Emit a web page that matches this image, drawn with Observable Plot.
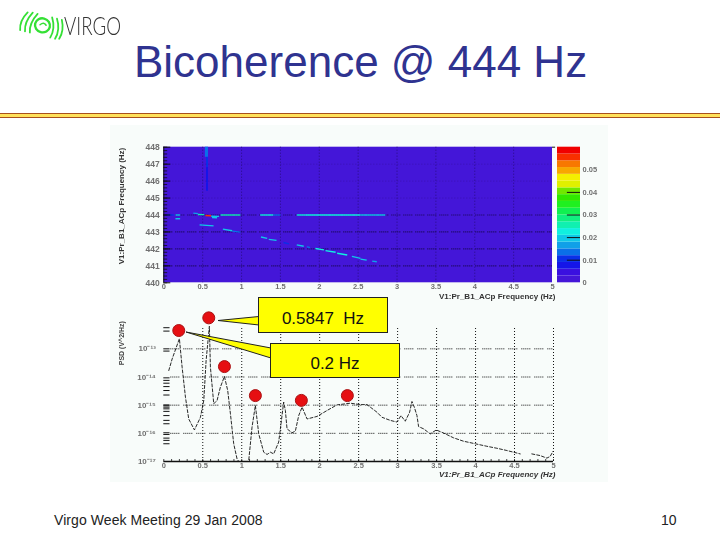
<!DOCTYPE html>
<html><head><meta charset="utf-8">
<script src="https://cdn.jsdelivr.net/npm/d3@7"></script>
<script src="https://cdn.jsdelivr.net/npm/@observablehq/plot@0.6"></script>
<style>
html,body{margin:0;padding:0;background:#fff;overflow:hidden}
#slide{position:relative;width:720px;height:540px;font-family:"Liberation Sans",Arial,sans-serif;overflow:hidden}
#slide>*{position:absolute}
#title{left:134px;top:37px;font-size:44px;line-height:50px;color:#2f3390;white-space:nowrap}
#rule{left:0;top:113px;width:720px;height:3px;background:#ffe15a;border-top:1px solid #a8501c;border-bottom:1px solid #a8501c}
#panel{left:110px;top:125px;width:498px;height:357px;background:#f8fcfa}
#logotext{left:64px;top:10px;font-family:Lato,"Open Sans",sans-serif;font-weight:300;font-size:26px;line-height:30px;color:#333;transform-origin:0 0;transform:scaleX(.72);white-space:nowrap}
.box{background:#ffff00;border:1px solid #222;box-sizing:border-box;display:flex;align-items:center;justify-content:center;font-size:17px;color:#111;white-space:pre;padding-top:7px}
#foot{left:54px;top:511px;font-size:14px;line-height:18px;color:#222;white-space:nowrap;letter-spacing:.07px}
#num{left:661px;top:511px;font-size:14px;line-height:18px;color:#222}
.chart{left:0;top:0;filter:blur(.3px)}
</style></head><body>
<div id="slide">
<svg id="logo" style="left:0;top:0" width="70" height="50">
  <g fill="none" stroke="#35e035" stroke-width="1.8" stroke-linecap="round" transform="rotate(14 41 25)">
    <path d="M25 16Q19 26 22 35"/><path d="M30 15Q24 26 27 35"/><path d="M35 15Q29 26 32 35"/>
    <path d="M50 15Q56 25 53 35"/><path d="M55 15Q61 25 58 35"/><path d="M60 15Q65 25 62 34"/>
    <ellipse cx="42.5" cy="25" rx="7.5" ry="7" stroke-width="2.4"/>
    <path d="M40 25Q43 21 46 24" stroke-width="1.5"/>
  </g>
</svg>
<div id="logotext">VIRGO</div>
<div id="title">Bicoherence @ 444 Hz</div>
<div id="rule"></div>
<div id="panel"></div>
<div id="foot">Virgo Week Meeting 29 Jan 2008</div>
<div id="num">10</div>
</div>
<script>
// Colour bar
const bandEdges = [0,.003,.006,.009,.012,.015,.018,.021,.024,.027,.03,.033,.036,.039,.042,.045,.048,.051,.054,.057,.06];
const bandColors = ["#4416d8","#3a10e0","#1515e8","#0a30e8","#0a70e8","#10a0e8","#10c8e8","#10f0e0","#10f0b0","#10f080","#10f050","#20f020","#30e800","#70e800","#e0f000","#f4f000","#f8a800","#f87800","#f83000","#f00000"];
const colorTicks = [.01,.02,.03,.04];
const colorLabels = [0,.01,.02,.03,.04,.05];

// Bicoherence map: bright ridges
const ridgeX1 = [.02,.15,.15,.38,.44,.535,.61,.62,.73,1.24,1.41,1.71,1.82,2.53, .46,.76,.88,1.25,1.35,1.54,1.71,1.84,1.95,2.08,2.23,2.42,2.53,2.68];
const ridgeX2 = [.13,.21,.21,.44,.52,.61,.71,.685,.985,1.41,1.5,1.82,2.53,2.85, .64,.88,.985,1.33,1.45,1.61,1.8,1.88,2.06,2.21,2.36,2.53,2.61,2.74];
const ridgeF1 = [444,444,443.78,444.11,444.03,443.97,443.93,443.85,444,444,444,444,444,444, 443.42,443.17,443.05,442.7,442.56,442.38,442.24,442.13,442.02,441.9,441.74,441.56,441.4,441.28];
const ridgeF2 = [444,444,443.78,444.08,444.02,443.96,443.92,443.84,444,444,444,444,444,444, 443.36,443.07,442.99,442.62,442.5,442.3,442.16,442.07,441.94,441.8,441.64,441.44,441.34,441.24];
const ridgeLevel = [.011,.02,.02,.016,.024,.056,.02,.02,.024,.022,.012,.022,.021,.018, .02,.02,.012,.02,.018,.011,.02,.012,.021,.021,.021,.02,.02,.016];
const streakX1 = [.535,.55,.55,.55];
const streakX2 = [.575,.575,.575,.575];
const streakF1 = [448,447.4,446.8,445.9];
const streakF2 = [447.4,446.8,445.9,445.4];
const streakLevel = [.014,.011,.008,.007];
const backgroundLevel = [.002];

// PSD curve (frequency in Hz, log10 of PSD); null marks gaps in the trace
const psdFreq = [.064,.107,.2,.235,.278,.32,.393,.47,.513,.543,.5847,.598,.641,.684,.726,.778,.82,.855,.897,.94,.974,1.026,1.09,1.132,1.175,1.218,1.282,1.325,1.368,1.41,1.474,1.504,1.538,1.56,1.581,1.645,1.688,1.731,1.774,1.838,1.966,2.094,2.222,2.393,2.521,2.607,2.735,2.799,2.906,2.991,3.043,3.098,3.154,3.184,3.214,3.248,3.269,3.333,3.419,3.496,3.59,3.718,3.846,3.996,4.145,4.274,4.402,4.573,4.65,4.722,4.829,4.915,4.957,5];
const psdExp = [-13.77,-13.36,-12.64,-13.65,-14.72,-15.49,-15.88,-15.43,-14.83,-13.41,-12.2,-13.65,-14.95,-14.83,-14.36,-13.98,-14.48,-15.31,-16.37,-16.91,-17.05,-17.44,-16.96,-15.78,-15.01,-16.02,-16.67,-16.75,-16.67,-16.73,-16.31,-15.66,-14.89,-15.19,-15.84,-15.98,-15.92,-15.37,-15.07,-15.49,-15.4,-15.19,-14.99,-14.93,-14.98,-14.98,-15.25,-15.43,-15.54,-15.6,-15.37,-15.57,-15.25,-14.87,-15.07,-15.37,-15.76,-15.84,-16.02,-15.88,-15.99,-16.16,-16.28,-16.37,-16.46,-16.53,-16.61,-16.73,null,-16.73,-16.79,-16.88,-16.82,-16.61];
const markerFreq = [.192,.577,.778,1.175,1.765,2.355];
const markerExp = [-12.35,-11.9,-13.63,-14.66,-14.83,-14.66];
const psdTickExp = [-12.25,-12.37,-13,-13.08,-14.03,-14.12,-14.22,-14.34,-14.48,-14.64,-14.99,-15.02,-15.07,-15.13,-15.22,-15.37,-15.54,-15.66,-15.98,-16.04,-16.17,-16.25,-16.37];
const psdDecades = [-13,-14,-15,-16,-17];
const psdGridExp = [-13,-14,-15,-16];

const xTicks = [0,.5,1,1.5,2,2.5,3,3.5,4,4.5,5];
const fTicks = [440,441,442,443,444,445,446,447,448];
const xTitle = "V1:Pr_B1_ACp Frequency (Hz)";
const grey = "#707070";
const base = {width:720,height:540,style:{background:"transparent",fontFamily:"'Liberation Sans',Arial,sans-serif"}};
const slideEl = document.getElementById("slide");
function add(p,cls="chart"){p.classList.add(cls);slideEl.appendChild(p);p.style.position="absolute";return p;}

const colorScale = {type:"threshold",domain:bandEdges.slice(1,-1),range:bandColors};
const ridgeIdx = d3.range(ridgeX1.length), streakIdx = d3.range(streakX1.length);

add(Plot.plot({...base,marginLeft:163.3,marginRight:168,marginTop:146.7,marginBottom:257.7,
  x:{domain:[0,5],axis:null},y:{domain:[440,448],axis:null},color:colorScale,
  marks:[
    Plot.rect(backgroundLevel,{x1:()=>0,x2:()=>5,y1:()=>440,y2:()=>448,fill:d=>d}),
    Plot.rect(streakIdx,{x1:i=>streakX1[i],x2:i=>streakX2[i],y1:i=>streakF1[i],y2:i=>streakF2[i],fill:i=>streakLevel[i]}),
    Plot.ruleX(xTicks.slice(1,-1),{stroke:"#200a60",strokeOpacity:.7,strokeDasharray:"1 2"}),
    Plot.ruleY([441,442,443,444],{stroke:"#180850",strokeWidth:1.2,strokeDasharray:"1 1 1 1 1 1 1 1 1 3"}),
    Plot.ruleY([445,446,447],{stroke:"#2a0c70",strokeOpacity:.35,strokeDasharray:"1 2"}),
    Plot.link(ridgeIdx,{x1:i=>ridgeX1[i],x2:i=>ridgeX2[i],y1:i=>ridgeF1[i],y2:i=>ridgeF2[i],stroke:i=>ridgeLevel[i],strokeWidth:1.4}),
    Plot.ruleY(d3.range(440,448.01,.2),{x1:0,x2:.05,stroke:"#111",strokeWidth:.8}),
    Plot.ruleY(fTicks,{x1:0,x2:.09,stroke:"#111",strokeWidth:1}),
    Plot.ruleX([0],{stroke:"#111",strokeWidth:1}),
    Plot.ruleY([448],{x1:5,x2:5.04,stroke:"#111"}),
    Plot.axisX({ticks:xTicks,tickSize:0,tickPadding:1,tickFormat:d=>String(d),fontSize:7.5,fill:grey,label:null,fontWeight:"bold"}),
    Plot.axisY({ticks:fTicks,tickSize:0,tickPadding:4,tickFormat:d=>String(d),fontSize:8.5,fill:grey,label:null,fontWeight:"bold"}),
    Plot.text([xTitle],{frameAnchor:"bottom-right",dx:3,dy:16.5,fontSize:8,fontWeight:"bold",fill:"#333",text:d=>d}),
    Plot.text([xTitle],{frameAnchor:"left",textAnchor:"middle",dx:-42,dy:-9,rotate:-90,fontSize:8,fontWeight:"bold",fill:"#333",text:d=>d})
  ]}));

const bandIdx = d3.range(bandColors.length);
add(Plot.plot({...base,marginLeft:557,marginRight:140,marginTop:146.7,marginBottom:257.7,
  x:{domain:[0,1],axis:null},y:{domain:[0,.06],axis:null},color:colorScale,
  marks:[
    Plot.rect(bandIdx,{x1:()=>0,x2:()=>1,y1:i=>bandEdges[i],y2:i=>bandEdges[i+1],fill:i=>bandEdges[i]+.001}),
    Plot.ruleY(colorTicks,{x1:.43,x2:1,stroke:"#111",strokeWidth:1}),
    Plot.axisY({anchor:"right",ticks:colorLabels,tickSize:0,tickPadding:2,tickFormat:d=>String(d),fontSize:7.5,fill:grey,label:null,fontWeight:"bold"})
  ]}));

const yv = e=>Math.pow(10,e);
const psdIdx = d3.range(psdFreq.length);
const psdTop = yv(-12.15), gridTop = yv(-12.25), psdBottom = yv(-17);
const sup = {"-":"\u207b","0":"\u2070","1":"\u00b9","2":"\u00b2","3":"\u00b3","4":"\u2074","5":"\u2075","6":"\u2076","7":"\u2077"};
add(Plot.plot({...base,marginLeft:163.3,marginRight:167,marginTop:324.4,marginBottom:79,
  x:{domain:[0,5],axis:null},y:{type:"log",domain:[psdBottom,psdTop],axis:null},
  marks:[
    Plot.ruleX(xTicks.slice(1),{y1:psdBottom,y2:gridTop,stroke:"#111",strokeWidth:1,strokeDasharray:"1 2"}),
    Plot.ruleY(psdGridExp.map(yv),{x1:.09,x2:5,stroke:"#111",strokeWidth:1,strokeDasharray:"1 1 1 1 1 1 1 1 1 4"}),
    Plot.ruleY(psdTickExp.map(yv),{x1:0,x2:.08,stroke:"#111",strokeWidth:1}),
    Plot.ruleY([psdBottom],{x1:0,x2:5,stroke:"#111",strokeWidth:1.4}),
    Plot.ruleX(d3.range(0,5.01,.1),{y1:psdBottom,y2:yv(-16.93),stroke:"#111",strokeWidth:.8}),
    Plot.line(psdIdx,{x:i=>psdFreq[i],y:i=>psdExp[i]===null?NaN:yv(psdExp[i]),stroke:"#111",strokeWidth:.9,strokeDasharray:"3 2",clip:true}),
    Plot.dot(d3.range(markerFreq.length),{x:i=>markerFreq[i],y:i=>yv(markerExp[i]),r:6,fill:"#e60f12",stroke:"#a81012",strokeWidth:1}),
    Plot.axisX({ticks:xTicks,tickSize:0,tickPadding:1,tickFormat:d=>String(d),fontSize:7.5,fill:grey,label:null,fontWeight:"bold"}),
    Plot.text(psdDecades,{x:()=>0,y:yv,dx:-8,textAnchor:"end",fontSize:8,fill:grey,fontWeight:"bold",
      text:e=>"10"+String(e).split("").map(c=>sup[c]).join("")}),
    Plot.text([xTitle],{frameAnchor:"bottom-right",dx:2,dy:15,fontSize:8,fontWeight:"bold",fontStyle:"italic",fill:"#333",text:d=>d}),
    Plot.text(["PSD (V^2/Hz)"],{frameAnchor:"left",textAnchor:"middle",dx:-42,dy:-50,rotate:-90,fontSize:7,fontWeight:"bold",fill:"#444",text:d=>d})
  ]}));

// Callouts
const ns="http://www.w3.org/2000/svg";
const over=document.createElementNS(ns,"svg");
over.setAttribute("width",720);over.setAttribute("height",540);over.style.left=0;over.style.top=0;
for(const pts of ["218,320.5 259,316.5 259,325","186,332 271,348 271,358"]){
  const pg=document.createElementNS(ns,"polygon");
  pg.setAttribute("points",pts);pg.setAttribute("fill","#ffff00");pg.setAttribute("stroke","#222");pg.setAttribute("stroke-width","1");
  over.appendChild(pg);
}
slideEl.appendChild(over);
for(const [txt,l,t,w,h] of [["0.5847  Hz",258,297,130,36],["0.2 Hz",270,343,130,35]]){
  const b=document.createElement("div");b.className="box";b.textContent=txt;
  b.style.cssText=`left:${l}px;top:${t}px;width:${w}px;height:${h}px`;slideEl.appendChild(b);
}
</script>
</body></html>
